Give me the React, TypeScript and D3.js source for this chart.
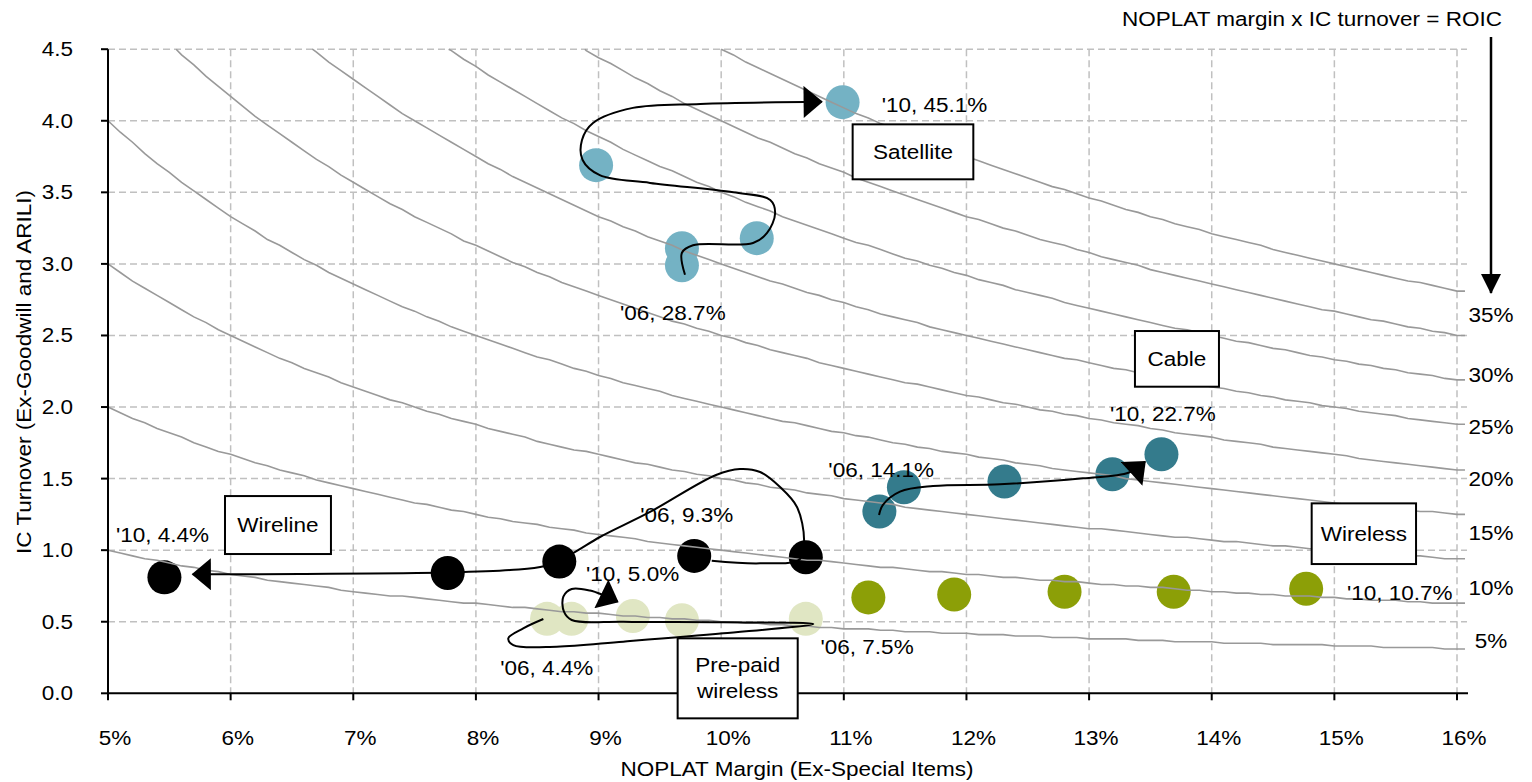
import React from 'react';
import * as d3 from 'd3';

// ---------- data ----------
const X_TICKS = [5, 6, 7, 8, 9, 10, 11, 12, 13, 14, 15, 16];
const Y_TICKS = [0, 0.5, 1, 1.5, 2, 2.5, 3, 3.5, 4, 4.5];
const ROIC_LEVELS = [5, 10, 15, 20, 25, 30, 35, 40, 45];
const ROIC_LABELS = ['5%', '10%', '15%', '20%', '25%', '30%', '35%'];
const ROIC_LABEL_POS = [0.367, 0.733, 1.118, 1.497, 1.863, 2.224, 2.643];

const satelliteMargin = [9.68, 9.68, 10.29, 8.98, 10.99];
const satelliteTurnover = [2.99, 3.11, 3.18, 3.69, 4.13];
const cableMargin = [11.29, 11.49, 12.31, 13.19, 13.59];
const cableTurnover = [1.27, 1.44, 1.48, 1.53, 1.67];
const wirelineMargin = [9.78, 10.69, 8.68, 7.77, 5.46];
const wirelineTurnover = [0.96, 0.95, 0.92, 0.84, 0.81];
const wirelessMargin = [11.2, 11.9, 12.8, 13.69, 14.77];
const wirelessTurnover = [0.67, 0.69, 0.71, 0.71, 0.73];
const prepaidMargin = [8.58, 9.68, 10.69, 8.78, 9.28];
const prepaidTurnover = [0.52, 0.51, 0.52, 0.52, 0.54];

const SERIES = [
  { name: 'Pre-paid wireless', margin: prepaidMargin, turnover: prepaidTurnover, color: '#e0e6c3' },
  { name: 'Wireless', margin: wirelessMargin, turnover: wirelessTurnover, color: '#8c9f07' },
  { name: 'Wireline', margin: wirelineMargin, turnover: wirelineTurnover, color: '#000000' },
  { name: 'Cable', margin: cableMargin, turnover: cableTurnover, color: '#347b8c' },
  { name: 'Satellite', margin: satelliteMargin, turnover: satelliteTurnover, color: '#74b2c4' },
];

// trajectory annotations (margin %, turnover)
const satellitePath = [
  [9.705, 2.924], [9.68, 3.078], [9.77, 3.13], [10.26, 3.146], [10.374, 3.216], [10.44, 3.356],
  [10.4, 3.447], [10.1, 3.5], [9.42, 3.566], [9.01, 3.62], [8.87, 3.726], [8.865, 3.866],
  [8.955, 3.985], [9.28, 4.09], [9.83, 4.118], [10.82, 4.133],
];
const cablePath = [
  [11.287, 1.246], [11.319, 1.316], [11.458, 1.409], [11.727, 1.448], [12.273, 1.46],
  [12.95, 1.502], [13.326, 1.543], [13.456, 1.618],
];
const wirelinePath = [
  [9.923, 0.926], [10.317, 0.908], [10.643, 0.938], [10.676, 1.071], [10.618, 1.302],
  [10.48, 1.441], [10.317, 1.546], [10.153, 1.567], [9.958, 1.525], [9.42, 1.267],
  [9.012, 1.092], [8.792, 0.98], [8.563, 0.889], [8.278, 0.861], [7.772, 0.844],
  [6.566, 0.834], [5.691, 0.831],
];
const prepaidPath = [
  [8.55, 0.519], [8.386, 0.454], [8.264, 0.384], [8.305, 0.337], [8.659, 0.326],
  [9.202, 0.361], [10.017, 0.419], [10.751, 0.484], [10.017, 0.496], [9.202, 0.5],
  [8.781, 0.512], [8.718, 0.57], [8.713, 0.675], [8.781, 0.729], [8.93, 0.718],
  [9.036, 0.687], [9.156, 0.64],
];
const PATHS = [satellitePath, cablePath, wirelinePath, prepaidPath];

const POINT_LABELS = [
  { text: "'10, 45.1%", m: 11.309, t: 4.061, anchor: 'start' },
  { text: "'06, 28.7%", m: 9.175, t: 2.608, anchor: 'start' },
  { text: "'10, 22.7%", m: 13.171, t: 1.903, anchor: 'start' },
  { text: "'06, 14.1%", m: 10.874, t: 1.511, anchor: 'start' },
  { text: "'10, 4.4%", m: 5.065, t: 1.057, anchor: 'start' },
  { text: "'06, 9.3%", m: 9.34, t: 1.197, anchor: 'start' },
  { text: "'10, 5.0%", m: 8.898, t: 0.785, anchor: 'start' },
  { text: "'06, 4.4%", m: 8.957, t: 0.128, anchor: 'end' },
  { text: "'06, 7.5%", m: 10.81, t: 0.274, anchor: 'start' },
  { text: "'10, 10.7%", m: 15.103, t: 0.649, anchor: 'start' },
];

const BOXES = [
  { lines: ['Satellite'], m0: 11.072, t0: 3.975, m1: 12.056, t1: 3.591 },
  { lines: ['Cable'], m0: 13.374, t0: 2.531, m1: 14.059, t1: 2.142 },
  { lines: ['Wireline'], m0: 5.954, t0: 1.378, m1: 6.818, t1: 0.973 },
  { lines: ['Wireless'], m0: 14.815, t0: 1.327, m1: 15.666, t1: 0.903 },
  { lines: ['Pre-paid', 'wireless'], m0: 9.645, t0: 0.384, m1: 10.624, t1: -0.175 },
];

// ---------- layout ----------
const W = 1532;
const H = 782;
const FONT = "'Liberation Sans', Arial, sans-serif";
const FS = 19.5;
const SX = 1.155;

const x = d3.scaleLinear().domain([5, 16]).range([108, 1457]);
const y = d3.scaleLinear().domain([0, 4.5]).range([693.3, 49.2]);

function T({ px, py, anchor = 'start', rotate = false, children, fill = '#000' }: any) {
  return (
    <text
      transform={`translate(${px},${py})${rotate ? ' rotate(-90)' : ''} scale(${SX},1)`}
      textAnchor={anchor}
      fontFamily={FONT}
      fontSize={FS}
      fill={fill}
    >
      {children}
    </text>
  );
}

function roicCurve(r: number): [number, number][] {
  const pts: [number, number][] = [];
  const start = Math.max(5, r / 4.5);
  pts.push([start, Math.min(4.5, r / start)]);
  let m = Math.ceil(start * 10 + 1e-9) / 10;
  for (; m <= 16.0001; m = Math.round((m + 0.1) * 10) / 10) {
    pts.push([m, Math.round((r / m) * 100) / 100]);
  }
  const last = pts[pts.length - 1];
  pts.push([16.065, last[1]]);
  return pts;
}

export default function App() {
  const line = d3.line<number[]>().x((d) => x(d[0])).y((d) => y(d[1]));
  const curvy = d3
    .line<number[]>()
    .x((d) => x(d[0]))
    .y((d) => y(d[1]))
    .curve(d3.curveCatmullRom.alpha(0.5));

  return (
    <svg
      width={W}
      height={H}
      style={{ position: 'absolute', left: 0, top: 0, display: 'block', background: '#fff' }}
    >
      <defs>
        <marker
          id="arr"
          markerUnits="userSpaceOnUse"
          markerWidth={20}
          markerHeight={32}
          viewBox="0 0 18 30"
          refX={17}
          refY={15}
          orient="auto"
        >
          <path d="M0,0 L18,15 L0,30 Z" fill="#000" />
        </marker>
        <marker
          id="arrDown"
          markerUnits="userSpaceOnUse"
          markerWidth={20}
          markerHeight={20}
          viewBox="0 0 20 20"
          refX={19}
          refY={10}
          orient="auto"
        >
          <path d="M0,0 L20,10 L0,20 Z" fill="#000" />
        </marker>
      </defs>

      {/* gridlines */}
      <g stroke="#c0c0c0" strokeWidth={1.5} strokeDasharray="7,4" fill="none">
        {Y_TICKS.filter((v) => v > 0).map((v) => (
          <line key={'h' + v} x1={x(5)} x2={1467} y1={y(v)} y2={y(v)} />
        ))}
        {X_TICKS.filter((v) => v > 5).map((v) => (
          <line key={'v' + v} x1={x(v)} x2={x(v)} y1={y(4.5)} y2={y(0)} />
        ))}
      </g>

      {/* dots */}
      {SERIES.map((s) => (
        <g key={s.name}>
          {s.margin.map((m, i) => (
            <circle key={i} cx={x(m)} cy={y(s.turnover[i])} r={17} fill={s.color} />
          ))}
        </g>
      ))}

      {/* ROIC iso-curves */}
      <g stroke="#999" strokeWidth={1.6} fill="none">
        {ROIC_LEVELS.map((r) => (
          <path key={r} d={line(roicCurve(r)) || ''} />
        ))}
      </g>

      {/* axes */}
      <g stroke="#000" strokeWidth={2}>
        <line x1={x(5)} x2={x(5)} y1={y(4.5)} y2={y(0)} />
        <line x1={x(5)} x2={1468} y1={y(0)} y2={y(0)} />
        {Y_TICKS.map((v) => (
          <line key={'yt' + v} x1={x(5) - 7} x2={x(5)} y1={y(v)} y2={y(v)} />
        ))}
        {X_TICKS.map((v) => (
          <line key={'xt' + v} x1={x(v)} x2={x(v)} y1={y(0)} y2={y(0) + 7} />
        ))}
      </g>

      {Y_TICKS.map((v) => (
        <T key={'yl' + v} px={73} py={y(v) + 7} anchor="end">
          {v.toFixed(1)}
        </T>
      ))}
      {X_TICKS.map((v) => (
        <T key={'xl' + v} px={x(v) + 7} py={745} anchor="middle">
          {v + '%'}
        </T>
      ))}

      <T px={797} py={776} anchor="middle">
        NOPLAT Margin (Ex-Special Items)
      </T>
      <T px={31} py={372} anchor="middle" rotate>
        IC Turnover (Ex-Goodwill and ARILI)
      </T>

      {/* ROIC labels & heading */}
      {ROIC_LABELS.map((lab, i) => (
        <T key={lab} px={1491} py={y(ROIC_LABEL_POS[i]) + 7} anchor="middle">
          {lab}
        </T>
      ))}
      <T px={1502} py={26} anchor="end">
        NOPLAT margin x IC turnover = ROIC
      </T>
      <line x1={1491} x2={1491} y1={37} y2={293} stroke="#000" strokeWidth={2.5} markerEnd="url(#arrDown)" />

      {/* trajectories */}
      <g stroke="#000" strokeWidth={2} fill="none">
        {PATHS.map((p, i) => (
          <path key={i} d={curvy(p) || ''} markerEnd="url(#arr)" />
        ))}
      </g>

      {/* point labels */}
      {POINT_LABELS.map((l) => (
        <T key={l.text + l.m} px={x(l.m)} py={y(l.t)} anchor={l.anchor}>
          {l.text}
        </T>
      ))}

      {/* boxes */}
      {BOXES.map((b) => {
        const x0 = x(b.m0);
        const x1 = x(b.m1);
        const y0 = y(b.t0);
        const y1 = y(b.t1);
        const cx = (x0 + x1) / 2;
        const cy = (y0 + y1) / 2;
        const n = b.lines.length;
        return (
          <g key={b.lines.join(' ')}>
            <rect x={x0} y={y0} width={x1 - x0} height={y1 - y0} fill="#fff" stroke="#000" strokeWidth={2} />
            {b.lines.map((ln, i) => (
              <T key={ln} px={cx} py={cy + 7 + (i - (n - 1) / 2) * 26} anchor="middle">
                {ln}
              </T>
            ))}
          </g>
        );
      })}
    </svg>
  );
}
